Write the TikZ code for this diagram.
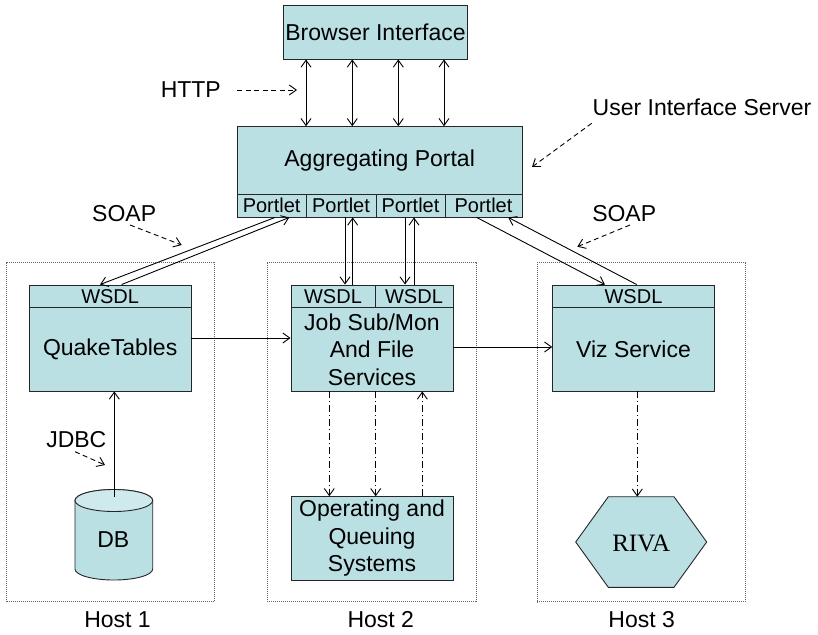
\documentclass[tikz,border=0pt]{standalone}
\usepackage{fontspec}
\setmainfont{Liberation Sans}
\newfontfamily\timesf{Liberation Serif}
\usetikzlibrary{arrows.meta,calc}
\definecolor{boxfill}{HTML}{BBE0E3}
\definecolor{topfill}{HTML}{CFEAEC}
\begin{document}
\begin{tikzpicture}[x=1pt,y=-1pt,
  box/.style={draw=black!85, fill=boxfill, line width=0.9pt, inner sep=0pt, font=\fontsize{23}{27.5}\selectfont, align=center},
  small/.style={box, font=\fontsize{20}{24}\selectfont},
  host/.style={draw=black!60, line width=0.8pt, dash pattern=on 1pt off 1pt, inner sep=0pt},
  lbl/.style={font=\fontsize{23}{27.5}\selectfont, inner sep=0pt},
  conn/.style={line width=0.9pt, -{Straight Barb[length=7pt,width=10pt]}},
  biconn/.style={line width=0.9pt, {Straight Barb[length=7pt,width=10pt]}-{Straight Barb[length=7pt,width=10pt]}},
  hint/.style={conn, dash pattern=on 5pt off 3.5pt},
  dd/.style={conn, dash pattern=on 7pt off 3pt on 1pt off 3pt}]
\useasboundingbox (0,0) rectangle (818,634);

% hosts
\node[host, minimum width=207.6pt, minimum height=339.7pt] (h1) at (110.5,431.85) {};
\node[host, minimum width=208.7pt, minimum height=339.7pt] (h2) at (371.65,431.85) {};
\node[host, minimum width=208.4pt, minimum height=339.7pt] (h3) at (641.5,431.85) {};
\node[lbl] (host1l) at (117.5,620) {Host 1};
\node[lbl] (host2l) at (380.8,620) {Host 2};
\node[lbl] (host3l) at (641.7,620) {Host 3};

% browser and portal
\node[box, minimum width=184.4pt, minimum height=53.3pt] (browser) at (375.5,32.35) {Browser Interface};
\node[box, minimum width=284.7pt, minimum height=67.6pt] (portal) at (379.65,160.5) {Aggregating Portal};
\node[small, minimum width=68.7pt, minimum height=22.7pt] (p1) at (271.65,205.65) {Portlet};
\node[small, minimum width=70pt, minimum height=22.7pt] (p2) at (341,205.65) {Portlet};
\node[small, minimum width=69pt, minimum height=22.7pt] (p3) at (410.5,205.65) {Portlet};
\node[small, minimum width=77pt, minimum height=22.7pt] (p4) at (483.5,205.65) {Portlet};

% host 1
\node[small, minimum width=161.7pt, minimum height=22.7pt] (qtw) at (110.15,296.35) {WSDL};
\node[box, minimum width=161.7pt, minimum height=83.3pt] (qt) at (110.15,349.35) {QuakeTables};
\draw[box] (75,500.5) -- (75,569) arc[start angle=180, end angle=360, x radius=38.85pt, y radius=11pt]
  -- (152.7,500.5) arc[start angle=0, end angle=180, x radius=38.85pt, y radius=11pt] -- cycle;
\draw[box, fill=topfill] (113.85,500.5) ellipse [x radius=38.85pt, y radius=11pt];
\node[lbl] (db) at (113.3,540) {DB};
\coordinate (dbtop) at (114.3,496.7);

% host 2
\node[small, minimum width=84pt, minimum height=22.7pt] (jw1) at (333,296.35) {WSDL};
\node[small, minimum width=78pt, minimum height=22.7pt] (jw2) at (414,296.35) {WSDL};
\node[box, minimum width=162pt, minimum height=83.3pt] (job) at (372,349.35) {Job Sub/Mon\\And File\\Services};
\node[box, minimum width=162pt, minimum height=83.3pt] (os) at (372,538.35) {Operating and\\Queuing\\Systems};

% host 3
\node[small, minimum width=161.6pt, minimum height=22.7pt] (vw) at (633.5,296.35) {WSDL};
\node[box, minimum width=161.6pt, minimum height=83.3pt] (viz) at (633.5,349.35) {Viz Service};
\draw[box] (575.7,542) -- (608.3,496.7) -- (674,496.7) -- (706.7,542) -- (674,587.3) -- (608.3,587.3) -- cycle;
\node[lbl, font=\timesf\fontsize{25}{28}\selectfont] (riva) at (641.2,543) {RIVA};
\coordinate (rivatop) at (641.2,496.7);

% browser <-> portal
\foreach \dx in {-69.5,-23.2,22.8,68.5}{
  \draw[biconn] ($(browser.south)+(\dx,0)$) -- ($(portal.north -| browser.south)+(\dx,0)$);
}

% portal <-> host 1
\draw[conn] ($(p1.south)+(3.35,0)$) -- ($(qtw.north)+(-10.15,0)$);
\draw[conn] ($(qtw.north)+(11.5,0)$) -- ($(p1.south)+(17.65,0)$);
% portal <-> host 2
\draw[conn] ($(p2.south -| jw1.north)+(12,0)$) -- ($(jw1.north)+(12,0)$);
\draw[conn] ($(jw1.north)+(19.7,0)$) -- ($(p2.south -| jw1.north)+(19.7,0)$);
\draw[conn] ($(p3.south -| jw2.north)+(-9,0)$) -- ($(jw2.north)+(-9,0)$);
\draw[conn] (jw2.north) -- (p3.south -| jw2.north);
% portal <-> host 3
\draw[conn] ($(p4.south)+(-6.8,0)$) -- ($(vw.north)+(-28.5,0)$);
\draw[conn] ($(vw.north)+(3.2,0)$) -- ($(p4.south)+(24.8,0)$);

% service links
\draw[conn] ($(qt.east)+(0,-11.35)$) -- ($(job.west)+(0,-11.35)$);
\draw[conn] ($(job.east)+(0,-2.35)$) -- ($(viz.west)+(0,-2.35)$);
\draw[conn] (dbtop) -- (qt.south -| dbtop);
\draw[dd] ($(job.south)+(-42.7,0)$) -- ($(os.north)+(-42.7,0)$);
\draw[dd] ($(job.south)+(3.7,0)$) -- ($(os.north)+(3.7,0)$);
\draw[dd] ($(os.north)+(50.3,0)$) -- ($(job.south)+(50.3,0)$);
\draw[dd] ($(viz.south)+(3.8,0)$) -- ($(rivatop -| viz.south)+(3.8,0)$);

% labels with hint arrows
\node[lbl] (http) at (190.8,90) {HTTP};
\node[lbl] (uis) at (702,107) {User Interface Server};
\node[lbl] (soapl) at (124.2,213.3) {SOAP};
\node[lbl] (soapr) at (624.2,213.3) {SOAP};
\node[lbl] (jdbc) at (76.3,440) {JDBC};
\coordinate (httpB) at (297,90);
\coordinate (uisA) at (591.7,123.3);
\coordinate (uisB) at (532,167);
\coordinate (soaplA) at (130,225);
\coordinate (soaplB) at (181.7,245);
\coordinate (soaprA) at (630,225);
\coordinate (soaprB) at (577.3,246.7);
\coordinate (jdbcA) at (75,451.7);
\coordinate (jdbcB) at (105,465);
\draw[hint] ($(http.east)+(16,0)$) -- (httpB);
\draw[hint] (uisA) -- (uisB);
\draw[hint] (soaplA) -- (soaplB);
\draw[hint] (soaprA) -- (soaprB);
\draw[hint] (jdbcA) -- (jdbcB);
\end{tikzpicture}
\end{document}
